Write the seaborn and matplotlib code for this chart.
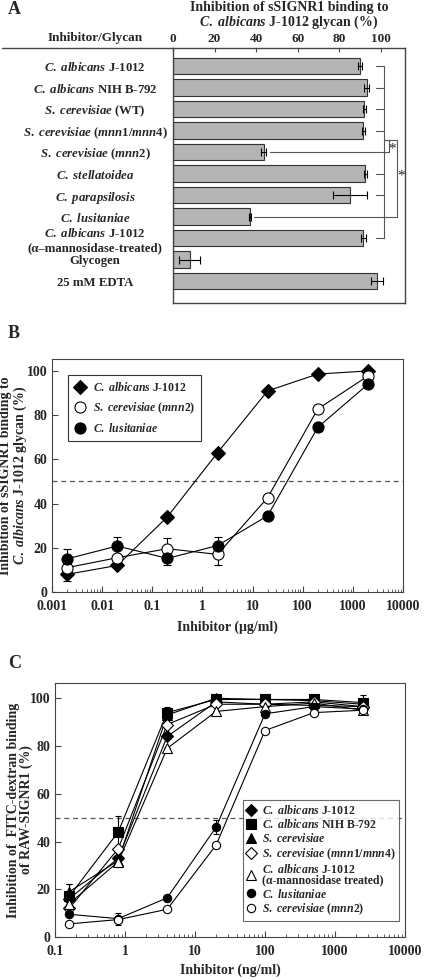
import matplotlib
matplotlib.use("Agg")
import matplotlib.pyplot as plt
import matplotlib.ticker as mticker
import seaborn as sns
import numpy as np

# ---- panel A: inhibition of sSIGNR1 binding by glycans ----
a_labels = [
    r"$\mathit{C.\ albicans}$ J-1012",
    r"$\mathit{C.\ albicans}$ NIH B-792",
    r"$\mathit{S.\ cerevisiae}$ (WT)",
    r"$\mathit{S.\ cerevisiae}$ ($\mathit{mnn1/mnn4}$)",
    r"$\mathit{S.\ cerevisiae}$ ($\mathit{mnn2}$)",
    r"$\mathit{C.\ stellatoidea}$",
    r"$\mathit{C.\ parapsilosis}$",
    r"$\mathit{C.\ lusitaniae}$",
    "$\\mathit{C.\\ albicans}$ J-1012\n(α–mannosidase-treated)",
    "Glycogen",
    "25 mM EDTA",
]
a_values = [90, 93, 92, 91.5, 43.5, 92.5, 85, 37, 91.5, 8, 98]
a_err = [1, 1, 0.8, 0.6, 1.2, 0.6, 8, 0.5, 1.2, 5, 3]

# ---- panel B: dose response, sSIGNR1 (ug/ml) ----
b_conc = [0.002, 0.02, 0.2, 2, 20, 200, 2000]
b_albicans = [8, 12, 34, 63, 91, 98.6, 100]
b_albicans_err = [3, 0, 0, 0, 0, 0, 0]
b_mnn2 = [11, 15.5, 19.6, 17, 42.7, 82.8, 97.7]
b_mnn2_err = [0, 0, 5, 5, 0, 0, 0]
b_lusit = [15, 20.8, 15.2, 21, 34.5, 74.5, 94]
b_lusit_err = [4.5, 4, 3, 4, 0, 0, 0]

# ---- panel C: dose response, RAW-SIGNR1 (ng/ml) ----
c_conc = [0.16, 0.8, 4, 20, 100, 500, 2500]
c_albicans = [16, 33, 84, 98.5, 97.5, 97, 96.5]
c_albicans_err = [0, 0, 0, 0, 0, 0, 0]
c_nih = [17, 44, 94, 99.5, 99.5, 99.5, 98.2]
c_nih_err = [5, 6.5, 2.5, 0, 0, 0, 3]
c_cerev = [19, 32, 93, 100, 99.5, 99, 97.5]
c_cerev_err = [3, 0, 0, 0, 0, 0, 0]
c_mnn14 = [12, 37, 89, 97.5, 97.5, 98.5, 96.5]
c_mnn14_err = [0, 0, 0, 0, 0, 0, 0]
c_amann = [14, 31.5, 79, 94.5, 96.5, 98, 95]
c_amann_err = [0, 2, 0, 0, 0, 0, 0]
c_lusit = [9.5, 7.7, 16.4, 46, 93.5, 96.5, 95.5]
c_lusit_err = [0, 2.5, 0, 3, 0, 0, 0]
c_mnn2 = [5.5, 7.3, 11.6, 38.5, 86.5, 94, 95]
c_mnn2_err = [0, 0, 0, 0, 0, 0, 0]

sns.set_style("ticks")
plt.rcParams['font.family'] = ['Liberation Serif', 'DejaVu Serif']
plt.rcParams['font.weight'] = 'bold'
plt.rcParams['axes.labelweight'] = 'bold'
plt.rcParams['mathtext.fontset'] = 'custom'
plt.rcParams['mathtext.it'] = 'Liberation Serif:italic:bold'
plt.rcParams['mathtext.rm'] = 'Liberation Serif:bold'
plt.rcParams['mathtext.bf'] = 'Liberation Serif:bold'
plt.rcParams['xtick.direction'] = 'in'
plt.rcParams['ytick.direction'] = 'in'

spine_col = '#444444'
fig = plt.figure(figsize=(4.25, 9.8), dpi=100)

# ================= A =================
ax_a = fig.add_axes([173/425, 1-303/980, 232/425, 255/980])
rows = np.arange(len(a_values))
sns.barplot(x=a_values, y=a_labels, orient='h', color='#b4b4b4', saturation=1,
            edgecolor='#333333', linewidth=0.8, width=0.78, ax=ax_a)
ax_a.errorbar(a_values, rows, xerr=a_err, fmt='none', ecolor='black',
              elinewidth=0.8, capsize=3, capthick=0.8)
ax_a.set_xlim(0, 111.5)
ax_a.set_ylim(10 + 1.02, -0.84)
ax_a.xaxis.tick_top()
ax_a.xaxis.set_label_position('top')
ax_a.set_xticks([0, 20, 40, 60, 80, 100])
ax_a.tick_params(axis='x', length=3, labelsize=9.5, pad=2.5, color=spine_col)
ax_a.tick_params(axis='y', length=0, labelsize=9.2, pad=56)
for t in ax_a.get_yticklabels():
    t.set_ha('center')
    t.set_multialignment('center')
ax_a.set_xlabel("Inhibition of sSIGNR1 binding to\n$\\mathit{C.\\ albicans}$ J-1012 glycan (%)",
                fontsize=10, linespacing=0.95)
ax_a.xaxis.set_label_coords(0.5, (303 - 26) / 255)
ax_a.set_ylabel("")
for s in ax_a.spines.values():
    s.set_visible(True)
    s.set_color(spine_col)
    s.set_linewidth(1)
ax_a.plot([-0.735, 0], [1, 1], transform=ax_a.transAxes, clip_on=False,
          color=spine_col, lw=1)
fig.text(95/425, 1-37.5/980, "Inhibitor/Glycan", ha='center', va='center', fontsize=9.5)

# significance brackets
br_col = '#555555'
group = [0, 1, 2, 3, 5, 6, 8]
ax_a.plot([101.6, 101.6], [0, 8], color=br_col, lw=0.8)
for r in group:
    ax_a.plot([97.6, 101.6], [r, r], color=br_col, lw=0.8)
ax_a.plot([101.6, 107.8], [3.45, 3.45], color=br_col, lw=0.8)
ax_a.plot([a_values[4] + a_err[4] + 1.8, 103.8, 103.8], [4, 4, 3.45], color=br_col, lw=0.8)
ax_a.plot([a_values[7] + a_err[7] + 1.2, 107.8, 107.8], [7, 7, 3.45], color=br_col, lw=0.8)
ax_a.text(105.2, 3.85, "*", ha='center', va='center', fontsize=11, fontweight='normal')
ax_a.text(109.5, 5.1, "*", ha='center', va='center', fontsize=11, fontweight='normal')

# ================= B =================
ax_b = fig.add_axes([52/425, 1-592/980, 351/425, 233/980])
ax_b.set_xscale('log')
b_series = [
    (b_albicans, b_albicans_err, 'D', 'black', r"$\mathit{C.\ albicans}$ J-1012", 7),
    (b_mnn2, b_mnn2_err, 'o', 'white', r"$\mathit{S.\ cerevisiae}$ ($\mathit{mnn2}$)", 8),
    (b_lusit, b_lusit_err, 'o', 'black', r"$\mathit{C.\ lusitaniae}$", 8),
]
ax_b.axhline(50, ls=(0, (4, 3)), color='#555555', lw=0.9, zorder=0)
for vals, err, mk, fc, lab, ms in b_series:
    ax_b.errorbar(b_conc, vals, yerr=err, fmt='none', ecolor='black',
                  elinewidth=0.8, capsize=3, capthick=0.8, zorder=1)
    sns.lineplot(x=b_conc, y=vals, ax=ax_b, color='black', lw=0.8, marker=mk,
                 markersize=ms, markerfacecolor=fc, markeredgecolor='black',
                 markeredgewidth=0.8, label=lab, zorder=3)
ax_b.set_xlim(0.001, 10000)
ax_b.set_ylim(0, 105.4)
ax_b.set_yticks([0, 20, 40, 60, 80, 100])
ax_b.set_xticks([0.001, 0.01, 0.1, 1, 10, 100, 1000, 10000])
ax_b.xaxis.set_major_formatter(mticker.FuncFormatter(lambda v, _: f"{v:g}"))
ax_b.xaxis.set_minor_locator(mticker.LogLocator(base=10, subs=np.arange(2, 10), numticks=20))
ax_b.xaxis.set_minor_formatter(mticker.NullFormatter())
ax_b.tick_params(which='major', length=4, labelsize=10, color=spine_col)
ax_b.tick_params(axis='x', which='major', pad=6)
ax_b.tick_params(which='minor', length=2, color=spine_col)
ax_b.set_xlabel("Inhibitor (μg/ml)", fontsize=10, labelpad=5)
ax_b.set_ylabel("Inhibition of sSIGNR1 binding to\n$\\mathit{C.\\ albicans}$ J-1012 glycan (%)",
                fontsize=10, linespacing=0.95)
ax_b.yaxis.set_label_coords(-0.065, 0.5)
for s in ax_b.spines.values():
    s.set_visible(True)
    s.set_color(spine_col)
leg_b = ax_b.legend(loc='upper left', bbox_to_anchor=(0.046, 0.931), frameon=True,
                    fancybox=False, edgecolor='black', fontsize=8.5, handlelength=1.0,
                    handletextpad=0.6, borderpad=0.5, labelspacing=0.55, borderaxespad=0)
leg_b.get_frame().set_linewidth(0.8)
for h in leg_b.legend_handles:
    h.set_linestyle('none')

# ================= C =================
ax_c = fig.add_axes([55/425, 1-937/980, 350/425, 254/980])
ax_c.set_xscale('log')
c_series = [
    (c_albicans, c_albicans_err, 'D', 'black', r"$\mathit{C.\ albicans}$ J-1012", 6),
    (c_nih, c_nih_err, 's', 'black', r"$\mathit{C.\ albicans}$ NIH B-792", 6.5),
    (c_cerev, c_cerev_err, '^', 'black', r"$\mathit{S.\ cerevisiae}$", 6.5),
    (c_mnn14, c_mnn14_err, 'D', 'white', r"$\mathit{S.\ cerevisiae}$ ($\mathit{mnn1/mnn4}$)", 6),
    (c_amann, c_amann_err, '^', 'white',
     "$\\mathit{C.\\ albicans}$ J-1012\n(α-mannosidase treated)", 6.5),
    (c_lusit, c_lusit_err, 'o', 'black', r"$\mathit{C.\ lusitaniae}$", 6),
    (c_mnn2, c_mnn2_err, 'o', 'white', r"$\mathit{S.\ cerevisiae}$ ($\mathit{mnn2}$)", 6),
]
ax_c.axhline(50, ls=(0, (4, 3)), color='#555555', lw=0.9, zorder=0)
for vals, err, mk, fc, lab, ms in c_series:
    ax_c.errorbar(c_conc, vals, yerr=err, fmt='none', ecolor='black',
                  elinewidth=0.8, capsize=2.5, capthick=0.8, zorder=1)
    sns.lineplot(x=c_conc, y=vals, ax=ax_c, color='black', lw=0.8, marker=mk,
                 markersize=ms, markerfacecolor=fc, markeredgecolor='black',
                 markeredgewidth=0.8, label=lab, zorder=3)
ax_c.set_xlim(0.1, 10000)
ax_c.set_ylim(0, 106.4)
ax_c.set_yticks([0, 20, 40, 60, 80, 100])
ax_c.set_xticks([0.1, 1, 10, 100, 1000, 10000])
ax_c.xaxis.set_major_formatter(mticker.FuncFormatter(lambda v, _: f"{v:g}"))
ax_c.xaxis.set_minor_locator(mticker.LogLocator(base=10, subs=np.arange(2, 10), numticks=20))
ax_c.xaxis.set_minor_formatter(mticker.NullFormatter())
ax_c.tick_params(which='major', length=4, labelsize=10, color=spine_col)
ax_c.tick_params(axis='x', which='major', pad=6)
ax_c.tick_params(which='minor', length=2, color=spine_col)
ax_c.set_xlabel("Inhibitor (ng/ml)", fontsize=10, labelpad=4)
ax_c.set_ylabel("Inhibition of  FITC-dextran binding\nof RAW-SIGNR1 (%)",
                fontsize=10, linespacing=0.95)
ax_c.yaxis.set_label_coords(-0.062, 0.5)
for s in ax_c.spines.values():
    s.set_visible(True)
    s.set_color(spine_col)
leg_c = ax_c.legend(loc='upper left', bbox_to_anchor=(0.537, 0.539), frameon=True,
                    fancybox=False, edgecolor='#444444', fontsize=8.5, handlelength=0.8,
                    handletextpad=0.5, borderpad=0.3, labelspacing=0.1, borderaxespad=0)
leg_c.get_frame().set_linewidth(0.8)
for h in leg_c.legend_handles:
    h.set_linestyle('none')
for t in leg_c.get_texts():
    t.set_linespacing(0.85)

# panel letters
fig.text(8/425, 1-10/980, "A", fontsize=13, ha='left', va='center')
fig.text(8/425, 1-333/980, "B", fontsize=13, ha='left', va='center')
fig.text(8/425, 1-663/980, "C", fontsize=13, ha='left', va='center')

fig.savefig("out.png", dpi=100)
